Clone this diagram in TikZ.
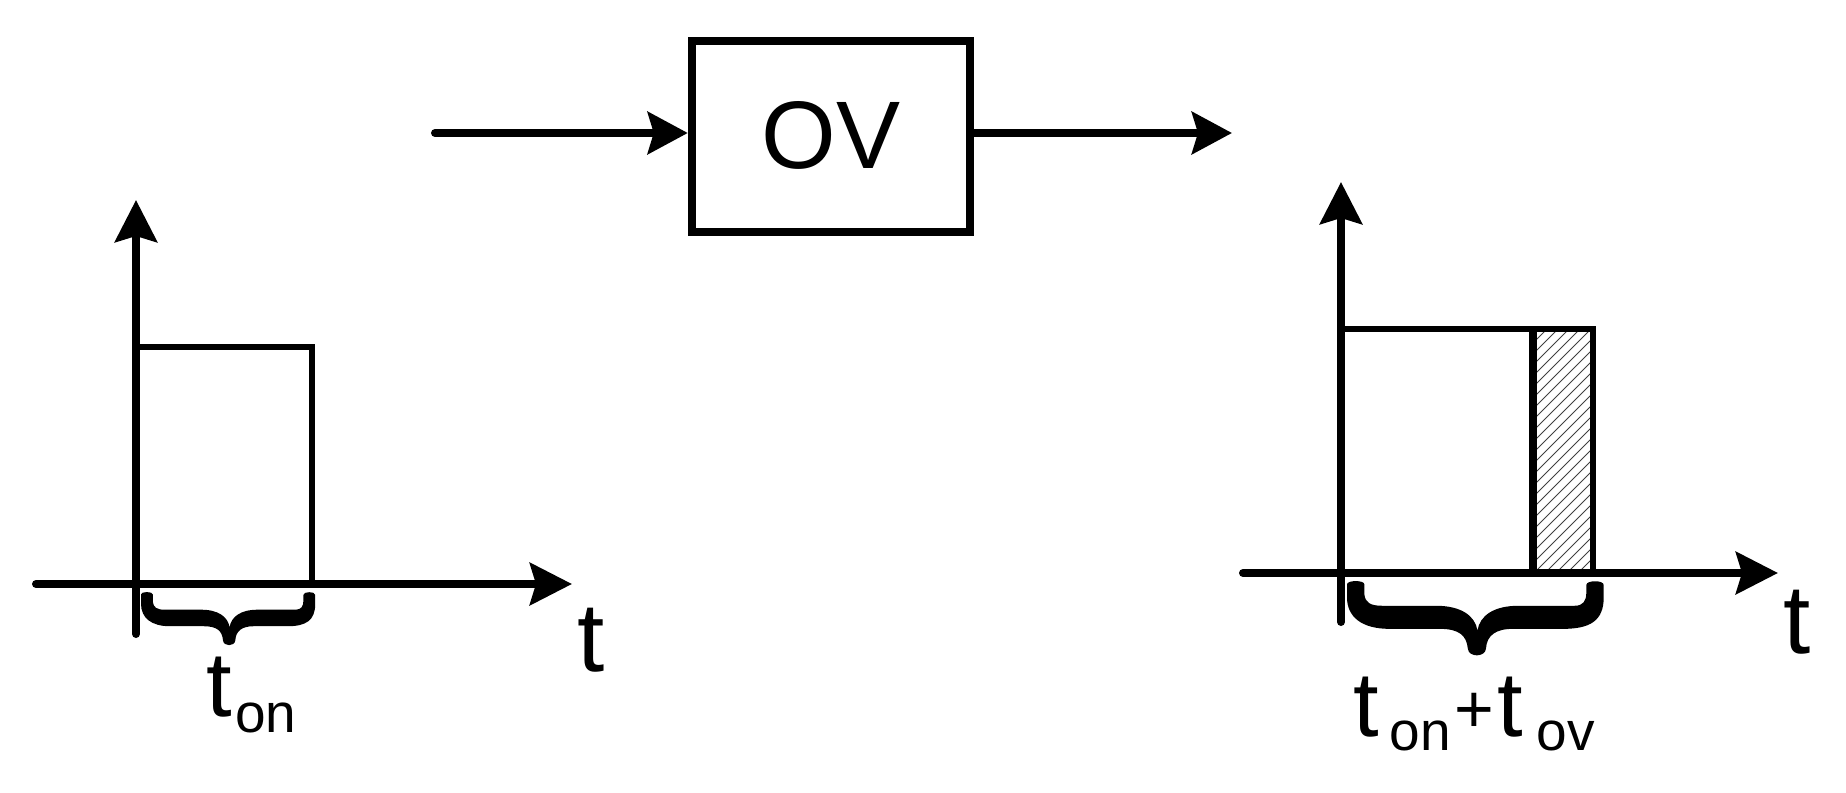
\documentclass[tikz,border=0pt]{standalone}
\usepackage{fontspec}
\setmainfont{Liberation Sans}
\usetikzlibrary{arrows.meta}
\newcommand{\bracefill}{%
  \fill (0,10) .. controls (0,-3) and (45,-3) .. (45,10) -- (45,40)
    .. controls (47,65) and (60,75) .. (90,75) -- (230,75)
    .. controls (295,75) and (332,105) .. (338,150)
    .. controls (344,105) and (380,75) .. (445,75) -- (590,75)
    .. controls (612,75) and (620,60) .. (620,35) -- (620,12)
    .. controls (620,-3) and (665,-3) .. (665,12) -- (665,50)
    .. controls (665,120) and (630,145) .. (560,145) -- (430,145)
    .. controls (385,145) and (362,165) .. (360,205)
    .. controls (358,232) and (315,232) .. (313,205)
    .. controls (310,165) and (290,145) .. (240,145) -- (110,145)
    .. controls (40,145) and (0,110) .. (0,50) -- cycle;}
\tikzset{
  px/.style={x=0.5pt,y=-0.5pt},
  axisline/.style={line width=4pt,line cap=round,-{Stealth[length=21pt,width=21pt,inset=3pt]}},
  flowline/.style={line width=4pt,line cap=round,-{Stealth[length=20pt,width=21pt,inset=3pt]}},
  pulse/.style={line width=3pt,line join=miter},
  thickpulse/.style={line width=3.2pt,line join=miter},
  midbar/.style={line width=4pt},
  hatchline/.style={line width=0.45pt,black!75},
  axislab/.style={inner sep=0pt,font=\fontsize{49pt}{49pt}\selectfont},
  lab/.style={inner sep=0pt,font=\fontsize{46pt}{46pt}\selectfont},
  pluslab/.style={inner sep=0pt,font=\fontsize{34pt}{34pt}\selectfont},
  sublab/.style={inner sep=0pt,font=\fontsize{27.5pt}{27.5pt}\selectfont},
  ovbox/.style={draw,line width=4.2pt,minimum width=139pt,minimum height=95.5pt,inner sep=0pt,font=\fontsize{48pt}{48pt}\selectfont}
}
\begin{document}
\begin{tikzpicture}[px]
\useasboundingbox (0,0) rectangle (1846,792);
% box and flow arrows
\node[ovbox] (ov) at (831,136.5) {\raisebox{2pt}{OV}};
\coordinate (in) at (435,133);
\coordinate (out) at (1232,133);
\draw[flowline] (in) -- (ov.west |- in);
\draw[flowline] (ov.east |- out) -- (out);
% left graph
\coordinate (lyb) at (136,634);
\coordinate (lyt) at (136,200);
\coordinate (lxl) at (36,584);
\coordinate (lxr) at (572,584);
\coordinate (ltl) at (136,347);
\coordinate (ltr) at (312,347);
\coordinate (lbr) at (312,584);
\draw[pulse] (ltl) -- (ltr) -- (lbr);
\draw[axisline] (lyb) -- (lyt);
\draw[axisline] (lxl) -- (lxr);
\begin{scope}[shift={(141,592)},x=0.131pt,y=-0.118pt]\bracefill\end{scope}
\node[axislab,anchor=base] (tl) at (591,671) {t};
\node[lab,anchor=base] (tonl) at (219,716) {t};
\node[sublab,anchor=base west] (onl) at (235,732) {on};
% right graph
\coordinate (ryb) at (1341,622);
\coordinate (ryt) at (1341,182);
\coordinate (rxl) at (1243,573);
\coordinate (rxr) at (1778,573);
\coordinate (rtl) at (1341,329);
\coordinate (rtr) at (1593,329);
\coordinate (rbr) at (1593,573);
\coordinate (rmt) at (1533,329);
\coordinate (rmb) at (1533,573);
\begin{scope}
\clip (rmt) rectangle (rbr);
\foreach \k in {-10,...,28}
  \draw[hatchline] (1523,573-\k*11) -- ++(80,-80);
\end{scope}
\draw[thickpulse] (rtl) -- (rtr) -- (rbr);
\draw[midbar] (rmt) -- (rmb);
\draw[axisline] (ryb) -- (ryt);
\draw[axisline] (rxl) -- (rxr);
\begin{scope}[shift={(1347,581)},x=0.193pt,y=-0.165pt]\bracefill\end{scope}
\node[axislab,anchor=base] (tr) at (1797,653) {t};
\node[lab,anchor=base] (tonr) at (1366,736) {t};
\node[sublab,anchor=base west] (onr) at (1389,750) {on};
\node[pluslab,anchor=base] (plus) at (1474,732) {+};
\node[lab,anchor=base] (tovr) at (1510,736) {t};
\node[sublab,anchor=base west] (ovr) at (1536,750) {ov};
\end{tikzpicture}
\end{document}
